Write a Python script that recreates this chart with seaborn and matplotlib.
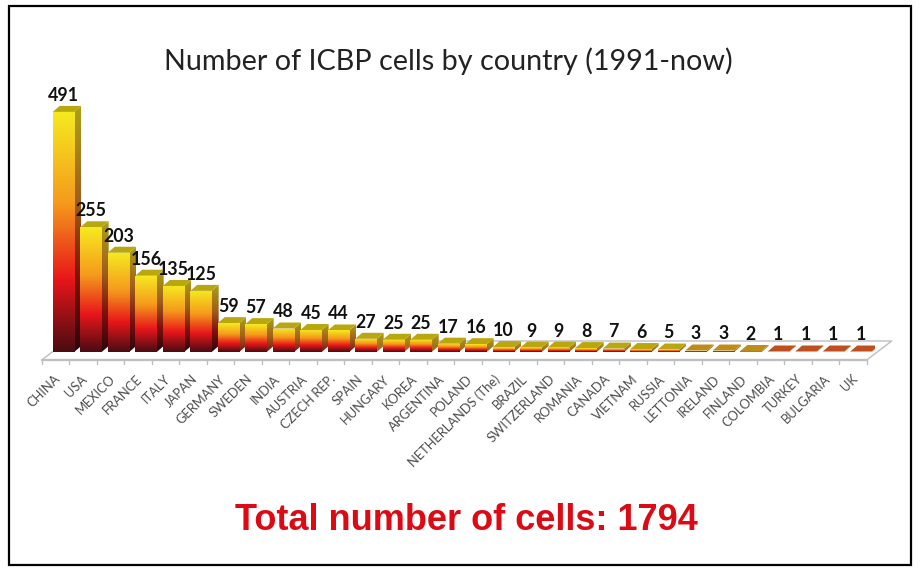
import matplotlib
matplotlib.use("Agg")
import matplotlib.pyplot as plt
import numpy as np
import seaborn as sns
from matplotlib.colors import LinearSegmentedColormap
from matplotlib.patches import Polygon, Rectangle
from matplotlib.transforms import ScaledTranslation

countries = ["CHINA", "USA", "MEXICO", "FRANCE", "ITALY", "JAPAN", "GERMANY", "SWEDEN",
             "INDIA", "AUSTRIA", "CZECH REP.", "SPAIN", "HUNGARY", "KOREA", "ARGENTINA",
             "POLAND", "NETHERLANDS (The)", "BRAZIL", "SWITZERLAND", "ROMANIA", "CANADA",
             "VIETNAM", "RUSSIA", "LETTONIA", "IRELAND", "FINLAND", "COLOMBIA", "TURKEY",
             "BULGARIA", "UK"]
cells = [491, 255, 203, 156, 135, 125, 59, 57, 48, 45, 44, 27, 25, 25, 17, 16, 10, 9, 9, 8,
         7, 6, 5, 3, 3, 2, 1, 1, 1, 1]
title = "Number of ICBP cells by country (1991-now)"
total_text = "Total number of cells: 1794"

W, H = 921, 571
step_px = 27.5   # pixels per category
unit_px = 0.489  # pixels per cell
px_x = 1 / step_px
px_y = 1 / unit_px

sns.set_theme(style="white")
plt.rcParams["font.family"] = ["Lato", "DejaVu Sans"]

fig = plt.figure(figsize=(W / 100, H / 100), dpi=100)
left = 49.7
base = 352
ymax = 600
ax = fig.add_axes([left / W, (H - base) / H, step_px * len(cells) / W, ymax * unit_px / H])

sns.barplot(x=countries, y=cells, color="#d08020", width=0.78, saturation=1, ax=ax, zorder=1)

ramp = LinearSegmentedColormap.from_list(
    "ramp", [(0, "#4a0c12"), (0.3, "#e8161a"), (0.62, "#f59a1c"), (1, "#f5ea20")])
ramp_side = LinearSegmentedColormap.from_list(
    "ramp_side", [(0, "#2a0608"), (0.3, "#80100f"), (0.62, "#a0601a"), (1, "#aca018")])


def top_colour(v):
    if v >= 4:
        return "#b9a70f"
    if v >= 2:
        return "#c08c18"
    return "#bf4f1f"


def side_floor(v):
    # short bars never reach the dark end of the ramp on their side face
    if v < 30:
        return 0.6
    if v < 70:
        return 0.3
    return 0.0


dx = 7 * px_x
dy = 6 * px_y
grad = np.linspace(1, 0, 128).reshape(-1, 1)
for bar, v in zip(ax.patches, cells):
    x0 = bar.get_x()
    x1 = x0 + bar.get_width()
    h = bar.get_height()
    # front face gradient
    im = ax.imshow(grad, extent=[x0, x1, 0, h], aspect="auto", cmap=ramp, vmin=0, vmax=1,
                   zorder=4, interpolation="bilinear")
    im.set_clip_path(bar)
    # side face
    side = Polygon([(x1, 0), (x1 + dx, dy), (x1 + dx, h + dy), (x1, h)], closed=True,
                   transform=ax.transData, facecolor="none", edgecolor="none")
    ax.add_patch(side)
    k = side_floor(v)
    im = ax.imshow(grad, extent=[x1, x1 + dx, 0, h + dy], aspect="auto", cmap=ramp_side,
                   vmin=-k / (1 - k), vmax=1, zorder=2, interpolation="bilinear")
    im.set_clip_path(side)
    # top face
    ax.add_patch(Polygon([(x0, h), (x0 + dx, h + dy), (x1 + dx, h + dy), (x1, h)], closed=True,
                         facecolor=top_colour(v), edgecolor="none", zorder=3))
    ax.annotate(str(v), (bar.get_x() + bar.get_width() / 2, h + dy), xytext=(0, 1.5),
                textcoords="offset points", ha="center", va="bottom", fontsize=12.8,
                fontweight="bold", color="#111111", zorder=6, annotation_clip=False)

# floor of the 3d box
n = len(cells)
fx0, fx1 = -0.5 - 8 * px_x, n - 0.5 - 8 * px_x
fy, by = -8 * px_y, 11 * px_y
shift = 25 * px_x
floor_c = "#bfbfbf"
ax.plot([fx0, fx1], [fy, fy], color=floor_c, lw=1.6, clip_on=False, zorder=0)
ax.plot([fx0, fx0 + shift, fx1 + shift, fx1], [fy, by, by, fy], color=floor_c, lw=1,
        clip_on=False, zorder=0)
for k in range(n + 1):
    ax.plot([fx0 + k, fx0 + k], [fy, fy - 4 * px_y], color=floor_c, lw=1, clip_on=False, zorder=0)

ax.set_xlim(-0.5, n - 0.5)
ax.set_ylim(0, ymax)
sns.despine(ax=ax, left=True, bottom=True)
ax.set_yticks([])
ax.set_xlabel("")
ax.set_ylabel("")
ax.patch.set_alpha(0)
ax.set_xticks(range(n))
ax.set_xticklabels(countries, rotation=45, ha="right", rotation_mode="anchor", fontsize=9.3,
                   color="#4d4d4d")
ax.tick_params(axis="x", length=0, pad=15)
offset = ScaledTranslation(-7 / 72, 0, fig.dpi_scale_trans)
for t in ax.get_xticklabels():
    t.set_transform(t.get_transform() + offset)

fig.text(448.5 / W, 1 - 61 / H, title, ha="center", va="center", fontsize=20.7, color="#222222")
fig.text(466 / W, 1 - 520 / H, total_text, ha="center", va="center", fontsize=26,
         fontweight="bold", color="#dc0a14", family="Liberation Sans")
fig.add_artist(Rectangle((9 / W, 1 - 564.5 / H), 902 / W, 558.5 / H, transform=fig.transFigure,
                         fill=False, edgecolor="black", lw=1.6))

fig.savefig("out.png", dpi=100)
